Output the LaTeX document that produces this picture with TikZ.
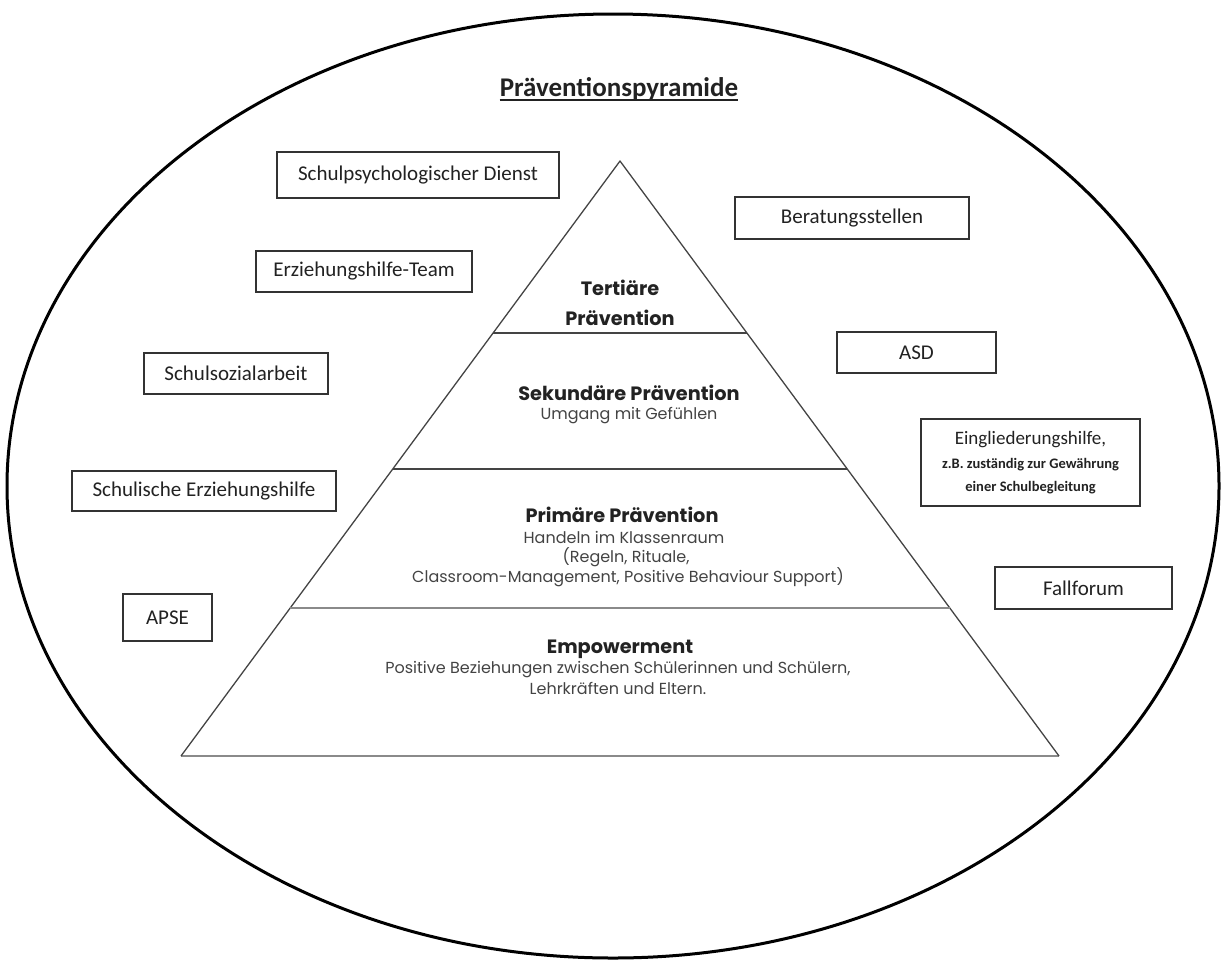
\documentclass[tikz,border=0pt]{standalone}
\usepackage{fontspec}
\setmainfont{Carlito}
\newfontfamily\gothic{Poppins}
\usetikzlibrary{calc,shapes.geometric,shadows}
\definecolor{ink}{HTML}{222222}
\definecolor{pline}{HTML}{444444}
\definecolor{pgray}{HTML}{8A8A8A}
\tikzset{
  box/.style={draw=black!80, line width=1.6pt, fill=white, inner sep=0pt,
    text=ink, font=\fontsize{21}{24}\selectfont,
    drop shadow={shadow xshift=1pt, shadow yshift=-1pt, opacity=0.25}},
  ptitle/.style={inner sep=0pt, text=ink, font=\gothic\bfseries\fontsize{19.3}{22}\selectfont},
  psub/.style={inner sep=0pt, text=ink!85, font=\gothic\fontsize{16}{18}\selectfont},
}
\begin{document}
\begin{tikzpicture}[x=1pt,y=-1pt]
\useasboundingbox (0,0) rectangle (1225,959);
% outer ellipse
\node[ellipse, draw=black, line width=3pt, minimum width=1212pt, minimum height=944pt, inner sep=0pt] (oval) at (613,486) {};
% title
\node[anchor=base, inner sep=0pt, text=ink, font=\bfseries\fontsize{27}{30}\selectfont] (title) at (619,96) {Präventionspyramide};
\draw[line width=1.8pt, ink] ([yshift=-4pt]title.base west) -- ([yshift=-4pt]title.base east);
% pyramid
\coordinate (apex) at (620,161);
\coordinate (bl) at (181,756);
\coordinate (br) at (1059,756);
\coordinate (l1) at ($(apex)!0.2891!(bl)$);
\coordinate (r1) at ($(apex)!0.2891!(br)$);
\coordinate (l2) at ($(apex)!0.5176!(bl)$);
\coordinate (r2) at ($(apex)!0.5176!(br)$);
\coordinate (l3) at ($(apex)!0.7513!(bl)$);
\coordinate (r3) at ($(apex)!0.7513!(br)$);
\draw[pgray, line width=2pt] (bl) -- (br);
\draw[pline, line width=1.3pt, line join=round] (bl) -- (apex) -- (br);
\draw[pline, line width=1.6pt] (l1) -- (r1);
\draw[pline, line width=1.6pt] (l2) -- (r2);
\draw[pgray, line width=2pt] (l3) -- (r3);
% pyramid texts
\node[ptitle] (tert1) at (620,288) {Tertiäre};
\node[ptitle] (tert2) at (620,318) {Prävention};
\node[ptitle] (sek) at (629,393) {Sekundäre Prävention};
\node[psub] (sek1) at (629,416) {Umgang mit Gefühlen};
\node[ptitle] (prim) at (622,515) {Primäre Prävention};
\node[psub] (prim1) at (624,537) {Handeln im Klassenraum};
\node[psub] (prim2) at (626,557) {(Regeln, Rituale,};
\node[psub] (prim3) at (628,577) {Classroom-Management, Positive Behaviour Support)};
\node[ptitle] (emp) at (620,649) {Empowerment};
\node[psub] (emp1) at (618,670) {Positive Beziehungen zwischen Schülerinnen und Schülern,};
\node[psub] (emp2) at (618,688) {Lehrkräften und Eltern.};
% boxes left
\node[box, minimum width=282pt, minimum height=46pt] (spd) at (418,175) {Schulpsychologischer Dienst};
\node[box, minimum width=216pt, minimum height=41pt] (eht) at (364,271.5) {Erziehungshilfe-Team};
\node[box, minimum width=184pt, minimum height=41pt] (ssa) at (236,373.5) {Schulsozialarbeit};
\node[box, minimum width=264pt, minimum height=40pt] (seh) at (204,491) {Schulische Erziehungshilfe};
\node[box, minimum width=89pt, minimum height=47pt] (apse) at (167.5,617.5) {APSE};
% boxes right
\node[box, minimum width=234pt, minimum height=42pt] (ber) at (852,218) {Beratungsstellen};
\node[box, minimum width=159pt, minimum height=41pt] (asd) at (916.5,352.5) {ASD};
\node[box, minimum width=219pt, minimum height=87pt, align=center] (egh) at (1030.5,462.5)
  {{\fontsize{19}{21}\selectfont Eingliederungshilfe,}\\[0pt]
   {\bfseries\fontsize{14.5}{20}\selectfont z.B. zuständig zur Gewährung}\\[-1pt]
   {\bfseries\fontsize{14.5}{20}\selectfont einer Schulbegleitung}};
\node[box, minimum width=177pt, minimum height=42pt] (fall) at (1083.5,588) {Fallforum};
\end{tikzpicture}
\end{document}
